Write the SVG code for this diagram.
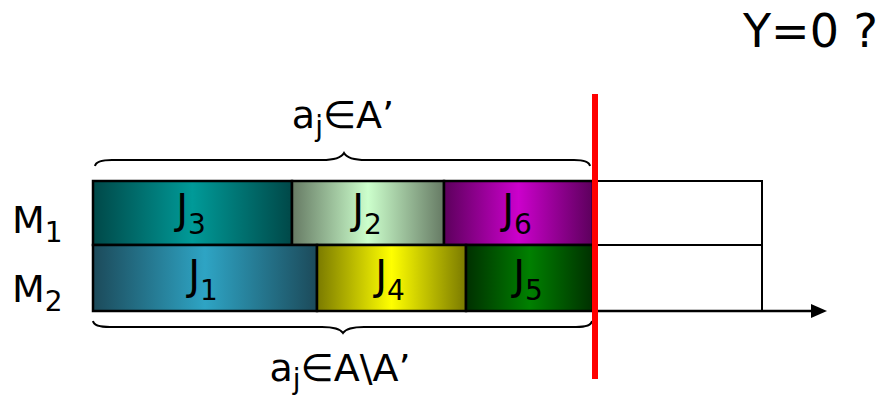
<svg xmlns="http://www.w3.org/2000/svg" width="892" height="395" viewBox="0 0 892 395">
<style>
  text { font-family: "DejaVu Sans", "Liberation Sans", sans-serif; fill: #000; }
  .lbl { font-size: 38px; }
  .job { font-size: 40px; text-anchor: middle; }
  .sub { font-size: 28px; }
  .box { stroke: #000; stroke-width: 2.5; }
  .empty { fill: #fff; stroke: #000; stroke-width: 2; }
  .brace { fill: none; stroke: #000; stroke-width: 2; }
</style>
<defs>
  <linearGradient id="gJ3" x1="0" y1="0" x2="1" y2="0">
    <stop offset="0" stop-color="#004848"/><stop offset="0.5" stop-color="#009A98"/><stop offset="1" stop-color="#004848"/>
  </linearGradient>
  <linearGradient id="gJ2" x1="0" y1="0" x2="1" y2="0">
    <stop offset="0" stop-color="#667A64"/><stop offset="0.5" stop-color="#CCFFCC"/><stop offset="1" stop-color="#667A64"/>
  </linearGradient>
  <linearGradient id="gJ6" x1="0" y1="0" x2="1" y2="0">
    <stop offset="0" stop-color="#5C005C"/><stop offset="0.5" stop-color="#CC00CC"/><stop offset="1" stop-color="#5C005C"/>
  </linearGradient>
  <linearGradient id="gJ1" x1="0" y1="0" x2="1" y2="0">
    <stop offset="0" stop-color="#1C4A5A"/><stop offset="0.5" stop-color="#2EA4C4"/><stop offset="1" stop-color="#1C4A5A"/>
  </linearGradient>
  <linearGradient id="gJ4" x1="0" y1="0" x2="1" y2="0">
    <stop offset="0" stop-color="#7A7A00"/><stop offset="0.5" stop-color="#FFFF00"/><stop offset="1" stop-color="#7A7A00"/>
  </linearGradient>
  <linearGradient id="gJ5" x1="0" y1="0" x2="1" y2="0">
    <stop offset="0" stop-color="#003000"/><stop offset="0.5" stop-color="#008000"/><stop offset="1" stop-color="#003000"/>
  </linearGradient>
</defs>

<g id="empty-slots">
  <rect class="empty" x="593" y="181" width="169" height="64"/>
  <rect class="empty" x="593" y="245" width="169" height="66"/>
</g>

<g id="connectors">
  <line x1="592" y1="311" x2="812" y2="311" stroke="#000" stroke-width="2.5"/>
  <polygon points="811,304 827,311 811,318" fill="#000"/>
</g>

<g id="J3"><rect class="box" x="93" y="181" width="199" height="64" fill="url(#gJ3)"/>
  <text class="job" x="191" y="223">J<tspan class="sub" dy="11">3</tspan></text></g>
<g id="J2"><rect class="box" x="292" y="181" width="152" height="64" fill="url(#gJ2)"/>
  <text class="job" x="367" y="223">J<tspan class="sub" dy="11">2</tspan></text></g>
<g id="J6"><rect class="box" x="444" y="181" width="149" height="64" fill="url(#gJ6)"/>
  <text class="job" x="517" y="223">J<tspan class="sub" dy="11">6</tspan></text></g>
<g id="J1"><rect class="box" x="93" y="245" width="224" height="66" fill="url(#gJ1)"/>
  <text class="job" x="203" y="289">J<tspan class="sub" dy="11">1</tspan></text></g>
<g id="J4"><rect class="box" x="317" y="245" width="149" height="66" fill="url(#gJ4)"/>
  <text class="job" x="390" y="289">J<tspan class="sub" dy="11">4</tspan></text></g>
<g id="J5"><rect class="box" x="466" y="245" width="127" height="66" fill="url(#gJ5)"/>
  <text class="job" x="528" y="289">J<tspan class="sub" dy="11">5</tspan></text></g>

<g id="M1"><text class="lbl" x="12" y="233">M<tspan class="sub" dy="9">1</tspan></text></g>
<g id="M2"><text class="lbl" x="12" y="302">M<tspan class="sub" dy="9">2</tspan></text></g>

<g id="brace-top">
  <path class="brace" d="M95,166 Q96,160 112,160 L322,160 Q340,160 344,153 Q348,160 366,160 L574,160 Q589,160 590,166"/>
  <text class="lbl" x="343" y="128" text-anchor="middle">a<tspan class="sub" dy="8">j</tspan><tspan dy="-8">∈A’</tspan></text>
</g>
<g id="brace-bottom">
  <path class="brace" d="M93,321 Q94,327 110,327 L322,327 Q339,327 343,333 Q347,327 364,327 L576,327 Q591,327 592,321"/>
  <text class="lbl" x="340" y="381" text-anchor="middle">a<tspan class="sub" dy="8">j</tspan><tspan dy="-8">∈A\A’</tspan></text>
</g>

<g id="cut-line">
  <line x1="595" y1="94" x2="595" y2="379" stroke="#FF0000" stroke-width="6"/>
</g>

<g id="question">
  <text x="743" y="47" style="font-size:46px">Y=0 ?</text>
</g>
</svg>
